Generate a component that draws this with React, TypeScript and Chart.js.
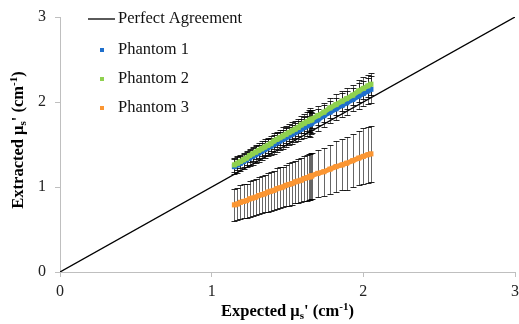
import React, { useEffect, useRef } from 'react';
import { Chart, registerables } from 'chart.js';

Chart.register(...registerables);

// ---- data ----
const expected = [
  1.15, 1.17, 1.19, 1.21, 1.23, 1.25, 1.27, 1.29, 1.31, 1.33, 1.35, 1.37, 1.39, 1.41, 1.43, 1.45, 1.47, 1.49, 1.51, 1.53,
  1.55, 1.57, 1.59, 1.61, 1.63, 1.645, 1.65, 1.655, 1.66, 1.7, 1.74, 1.78, 1.82, 1.86, 1.89, 1.93, 1.97, 2.0, 2.03, 2.05,
];
const phantom1 = [
  1.24, 1.26, 1.28, 1.3, 1.32, 1.34, 1.36, 1.38, 1.4, 1.42, 1.44, 1.46, 1.48, 1.5, 1.52, 1.54, 1.56, 1.58, 1.6, 1.62,
  1.64, 1.66, 1.68, 1.7, 1.72, 1.74, 1.74, 1.75, 1.75, 1.79, 1.84, 1.88, 1.92, 1.96, 1.99, 2.03, 2.07, 2.1, 2.13, 2.15,
];
const phantom1Err = [
  0.09, 0.09, 0.09, 0.09, 0.09, 0.09, 0.1, 0.1, 0.1, 0.1, 0.1, 0.1, 0.1, 0.11, 0.11, 0.11, 0.11, 0.11, 0.11, 0.11,
  0.11, 0.12, 0.12, 0.12, 0.12, 0.14, 0.15, 0.13, 0.12, 0.13, 0.13, 0.13, 0.13, 0.14, 0.14, 0.14, 0.15, 0.15, 0.15, 0.16,
];
const phantom2 = [
  1.26, 1.28, 1.3, 1.32, 1.34, 1.37, 1.39, 1.41, 1.43, 1.45, 1.47, 1.49, 1.51, 1.54, 1.56, 1.58, 1.6, 1.62, 1.64, 1.66,
  1.68, 1.7, 1.73, 1.75, 1.77, 1.78, 1.79, 1.79, 1.8, 1.84, 1.88, 1.93, 1.97, 2.01, 2.04, 2.08, 2.13, 2.16, 2.19, 2.21,
];
const phantom2Err = [
  0.08, 0.08, 0.08, 0.08, 0.08, 0.08, 0.08, 0.08, 0.09, 0.09, 0.09, 0.09, 0.09, 0.09, 0.09, 0.09, 0.1, 0.1, 0.1, 0.1,
  0.1, 0.1, 0.1, 0.11, 0.11, 0.13, 0.14, 0.12, 0.11, 0.11, 0.11, 0.12, 0.12, 0.12, 0.12, 0.12, 0.13, 0.13, 0.13, 0.13,
];
const phantom3 = [
  0.79, 0.8, 0.82, 0.83, 0.84, 0.86, 0.87, 0.88, 0.9, 0.91, 0.92, 0.94, 0.95, 0.96, 0.98, 0.99, 1.0, 1.02, 1.03, 1.04,
  1.06, 1.07, 1.08, 1.1, 1.11, 1.12, 1.12, 1.13, 1.13, 1.16, 1.18, 1.21, 1.24, 1.26, 1.28, 1.31, 1.34, 1.36, 1.38, 1.39,
];
const phantom3Err = [
  0.19, 0.19, 0.2, 0.2, 0.2, 0.21, 0.21, 0.21, 0.22, 0.22, 0.22, 0.23, 0.23, 0.23, 0.24, 0.24, 0.24, 0.24, 0.25, 0.25,
  0.25, 0.26, 0.26, 0.26, 0.27, 0.27, 0.27, 0.27, 0.27, 0.28, 0.28, 0.29, 0.3, 0.3, 0.31, 0.31, 0.32, 0.33, 0.33, 0.33,
];
const perfectX = [0, 3];
const perfectY = [0, 3];
const axisTicks = [0, 1, 2, 3];

const seriesLabels = ['Perfect Agreement', 'Phantom 1', 'Phantom 2', 'Phantom 3'];
const seriesColors = ['#000000', '#1f6fcc', '#8fd14f', '#fb9633'];

const SERIF = "'Liberation Serif', 'Times New Roman', serif";

type Part = { t: string; size: number; dy: number };

function drawRich(ctx: CanvasRenderingContext2D, parts: Part[], cx: number, cy: number) {
  let total = 0;
  for (const p of parts) {
    ctx.font = `bold ${p.size}px ${SERIF}`;
    total += ctx.measureText(p.t).width;
  }
  let x = cx - total / 2;
  ctx.textBaseline = 'middle';
  ctx.textAlign = 'left';
  for (const p of parts) {
    ctx.font = `bold ${p.size}px ${SERIF}`;
    ctx.fillText(p.t, x, cy + p.dy);
    x += ctx.measureText(p.t).width;
  }
}

function titleParts(word: string): Part[] {
  return [
    { t: word + ' \u03bc', size: 16.5, dy: 0 },
    { t: 's', size: 11, dy: 4 },
    { t: "' (cm", size: 16.5, dy: 0 },
    { t: '-1', size: 11, dy: -5 },
    { t: ')', size: 16.5, dy: 0 },
  ];
}

export default function App() {
  const ref = useRef<HTMLCanvasElement>(null);

  useEffect(() => {
    document.body.style.margin = '0';
    const canvas = ref.current;
    if (!canvas) return;

    const errSets: [number[], number[]][] = [
      [phantom1, phantom1Err],
      [phantom2, phantom2Err],
      [phantom3, phantom3Err],
    ];

    const errorBars = {
      id: 'errorBars',
      beforeDatasetsDraw(chart: any) {
        const { ctx, scales } = chart;
        const xs = scales.x;
        const ys = scales.y;
        ctx.save();
        for (const [vals, errs] of errSets) {
          for (let i = 0; i < expected.length; i++) {
            const px = Math.round(xs.getPixelForValue(expected[i])) + 0.5;
            const top = Math.round(ys.getPixelForValue(vals[i] + errs[i])) + 0.5;
            const bot = Math.round(ys.getPixelForValue(vals[i] - errs[i])) + 0.5;
            ctx.strokeStyle = 'rgba(0,0,0,0.6)';
            ctx.lineWidth = 1;
            ctx.beginPath();
            ctx.moveTo(px, top);
            ctx.lineTo(px, bot);
            ctx.stroke();
            ctx.strokeStyle = 'rgba(0,0,0,0.85)';
            ctx.beginPath();
            ctx.moveTo(px - 3, top);
            ctx.lineTo(px + 3, top);
            ctx.moveTo(px - 3, bot);
            ctx.lineTo(px + 3, bot);
            ctx.stroke();
          }
        }
        ctx.restore();
      },
    };

    const overlay = {
      id: 'overlay',
      afterDraw(chart: any) {
        const { ctx, chartArea } = chart;
        ctx.save();
        ctx.fillStyle = '#000';
        // x title
        drawRich(ctx, titleParts('Expected'), (chartArea.left + chartArea.right) / 2, 312);
        // y title
        ctx.save();
        ctx.translate(19, 140);
        ctx.rotate(-Math.PI / 2);
        drawRich(ctx, titleParts('Extracted'), 0, 0);
        ctx.restore();

        // legend
        const lx = 118;
        const rows = [19, 50, 79, 108];
        ctx.font = `16.5px ${SERIF}`;
        ctx.textBaseline = 'middle';
        ctx.textAlign = 'left';
        for (let i = 0; i < seriesLabels.length; i++) {
          const y = rows[i];
          if (i === 0) {
            ctx.strokeStyle = seriesColors[0];
            ctx.lineWidth = 1.3;
            ctx.beginPath();
            ctx.moveTo(88, y);
            ctx.lineTo(115, y);
            ctx.stroke();
          } else {
            ctx.fillStyle = seriesColors[i];
            ctx.fillRect(100, y - 2, 4, 4);
          }
          ctx.fillStyle = '#111';
          ctx.fillText(seriesLabels[i], lx, y);
        }
        ctx.restore();
      },
    };

    const pts = (ys: number[]) => expected.map((x, i) => ({ x, y: ys[i] }));

    const tickFont = { family: SERIF, size: 16 };

    const markerSeries = (i: number, ys: number[], order: number) => ({
      label: seriesLabels[i],
      data: pts(ys),
      showLine: true,
      borderColor: seriesColors[i],
      borderWidth: 5,
      backgroundColor: seriesColors[i],
      pointBorderWidth: 0,
      pointStyle: 'rect',
      pointRadius: 3.6,
      order,
    });

    const chart = new Chart(canvas, {
      type: 'scatter',
      data: {
        datasets: [
          {
            label: seriesLabels[0],
            data: perfectX.map((x, i) => ({ x, y: perfectY[i] })),
            showLine: true,
            borderColor: seriesColors[0],
            borderWidth: 1.3,
            pointRadius: 0,
            order: 0,
          },
          markerSeries(1, phantom1, 3),
          markerSeries(2, phantom2, 2),
          markerSeries(3, phantom3, 1),
        ],
      },
      options: {
        responsive: false,
        animation: false,
        devicePixelRatio: 1,
        layout: { padding: { top: 17, right: 4, left: 0, bottom: 0 } },
        plugins: { legend: { display: false }, tooltip: { enabled: false } },
        scales: {
          x: {
            type: 'linear',
            min: 0,
            max: 3,
            afterBuildTicks(scale: any) {
              scale.ticks = axisTicks.map((v) => ({ value: v }));
            },
            afterFit(scale: any) {
              scale.height = 52;
              scale.paddingLeft = 0;
              scale.paddingRight = 0;
            },
            ticks: { font: tickFont, color: '#222', padding: 5, maxRotation: 0 },
            grid: { drawOnChartArea: false, drawTicks: true, tickLength: 5, color: '#bfbfbf' },
            border: { color: '#bfbfbf', width: 1 },
          },
          y: {
            type: 'linear',
            min: 0,
            max: 3,
            afterBuildTicks(scale: any) {
              scale.ticks = axisTicks.map((v) => ({ value: v }));
            },
            afterFit(scale: any) {
              scale.width = 60;
              scale.paddingTop = 0;
              scale.paddingBottom = 0;
            },
            ticks: { font: tickFont, color: '#222', padding: 9 },
            grid: { drawOnChartArea: false, drawTicks: true, tickLength: 5, color: '#bfbfbf' },
            border: { color: '#bfbfbf', width: 1 },
          },
        },
      },
      plugins: [errorBars, overlay],
    } as any);

    return () => chart.destroy();
  }, []);

  return (
    <div style={{ position: 'relative', width: 519, height: 324 }}>
      <canvas ref={ref} width={519} height={324} />
    </div>
  );
}
